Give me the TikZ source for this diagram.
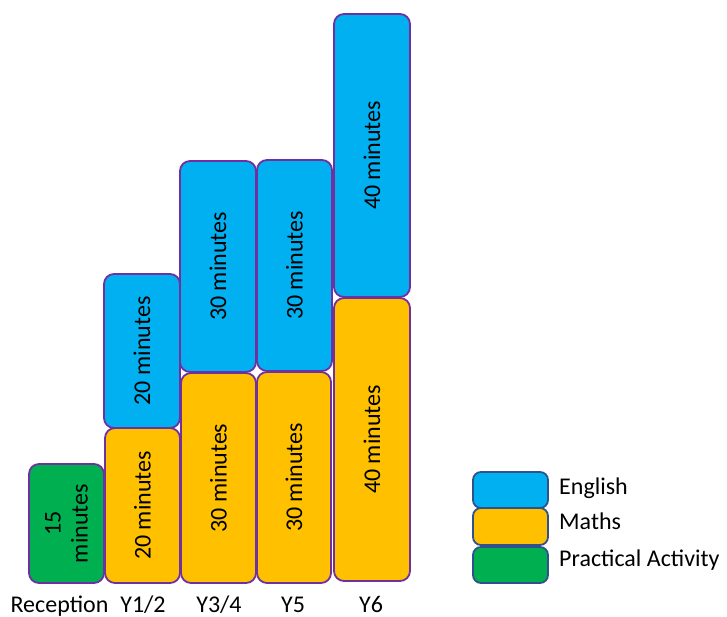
\documentclass[tikz,border=0pt]{standalone}
\usepackage{fontspec}
\setmainfont{Carlito}
\definecolor{engblue}{HTML}{00B0F0}
\definecolor{mathyellow}{HTML}{FFC000}
\definecolor{actgreen}{HTML}{00B050}
\definecolor{barline}{HTML}{7030A0}
\definecolor{keyline}{HTML}{2F528F}

\begin{document}
\begin{tikzpicture}[x=1pt, y=-1pt,
    every node/.style={font=\fontsize{24}{27}\selectfont},
    bar/.style={draw=barline, line width=1.8pt, rounded corners=10pt, rotate=90, inner sep=0pt, align=center},
    keybox/.style={draw=keyline, line width=1.8pt, rounded corners=8pt, minimum width=75pt, inner sep=0pt}]
    \useasboundingbox (0,0) rectangle (727,617);
    \node[bar, fill=actgreen, minimum width=119pt, minimum height=75pt] (rp) at (66.5, 523.5) {15\\minutes};
    \node[bar, fill=mathyellow, minimum width=155pt, minimum height=75pt] (m12) at (142.5, 505.5) {20 minutes};
    \node[bar, fill=engblue, minimum width=154pt, minimum height=76pt] (e12) at (142, 351) {20 minutes};
    \node[bar, fill=mathyellow, minimum width=210pt, minimum height=75pt] (m34) at (218.5, 478) {30 minutes};
    \node[bar, fill=engblue, minimum width=211pt, minimum height=76pt] (e34) at (218, 266.5) {30 minutes};
    \node[bar, fill=mathyellow, minimum width=211pt, minimum height=74pt] (m5) at (294, 477.5) {30 minutes};
    \node[bar, fill=engblue, minimum width=211pt, minimum height=75pt] (e5) at (294.5, 265.5) {30 minutes};
    \node[bar, fill=mathyellow, minimum width=283pt, minimum height=76pt] (m6) at (372, 439.5) {40 minutes};
    \node[bar, fill=engblue, minimum width=283pt, minimum height=76pt] (e6) at (372, 155.5) {40 minutes};
    \node[anchor=base] (lr) at (59.5, 612) {Reception};
    \node[anchor=base] (l12) at (143, 612) {Y1/2};
    \node[anchor=base] (l34) at (219, 612) {Y3/4};
    \node[anchor=base] (l5) at (293, 612) {Y5};
    \node[anchor=base] (l6) at (371, 612) {Y6};
    \node[keybox, fill=engblue, minimum height=36pt] (ke) at (510.5, 490) {};
    \node[keybox, fill=mathyellow, minimum height=37pt] (km) at (510.5, 526.5) {};
    \node[keybox, fill=actgreen, minimum height=36pt] (kp) at (510.5, 565) {};
    \node[anchor=base west, inner sep=0pt] (te) at (559, 494) {English};
    \node[anchor=base west, inner sep=0pt] (tm) at (559, 529) {Maths};
    \node[anchor=base west, inner sep=0pt] (tp) at (559, 566) {Practical Activity};
  \end{tikzpicture}
\end{document}
